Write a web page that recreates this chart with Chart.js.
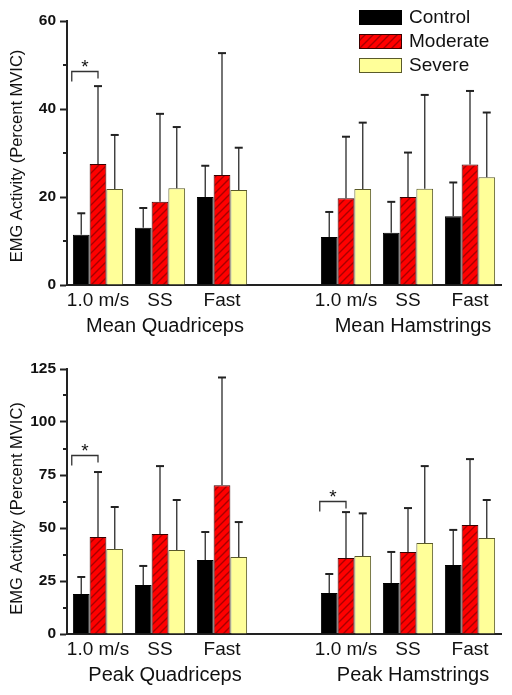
<!DOCTYPE html>
<html>
<head>
<meta charset="utf-8">
<script src="https://cdn.jsdelivr.net/npm/chart.js@4.4.1/dist/chart.umd.min.js"></script>
<style>
  html, body { margin: 0; padding: 0; background: #fff; }
  canvas { display: block; }
</style>
</head>
<body>
<canvas id="meanChart" width="512" height="345"></canvas>
<canvas id="peakChart" width="512" height="350"></canvas>
<script>
// categories (empty slot separates quadriceps from hamstrings)
const categories = ["1.0 m/s", "SS", "Fast", "", "1.0 m/s", "SS", "Fast"];
const groupNames = ["Control", "Moderate", "Severe"];

// Mean EMG (percent MVIC) and SD
const meanControl = [11.4, 13.0, 20.0, null, 10.9, 11.9, 15.6];
const meanControlSD = [4.9, 4.5, 7.1, null, 5.7, 7.0, 7.7];
const meanModerate = [27.5, 18.9, 25.0, null, 19.7, 20.0, 27.4];
const meanModerateSD = [17.7, 20.0, 27.7, null, 14.0, 10.1, 16.7];
const meanSevere = [21.8, 22.0, 21.6, null, 21.8, 21.9, 24.5];
const meanSevereSD = [12.3, 13.9, 9.6, null, 15.1, 21.3, 14.7];

// Peak EMG (percent MVIC) and SD
const peakControl = [18.9, 23.1, 34.9, null, 19.3, 24.0, 32.5];
const peakControlSD = [8.0, 9.0, 13.2, null, 9.0, 14.7, 16.6];
const peakModerate = [45.8, 47.2, 70.2, null, 35.8, 38.7, 51.4];
const peakModerateSD = [30.6, 32.0, 50.8, null, 21.7, 20.7, 31.1];
const peakSevere = [40.1, 39.6, 36.3, null, 36.8, 42.9, 45.3];
const peakSevereSD = [19.8, 23.6, 16.5, null, 20.1, 36.3, 17.9];

// significance brackets: category index and bracket height (data units)
const meanSignificant = [[0, 48.7]];
const peakSignificant = [[0, 84.4], [4, 62.9]];

Chart.defaults.font.family = 'Arial, "Liberation Sans", sans-serif';
Chart.defaults.color = "#111";

function hatchPattern() {
    const c = document.createElement("canvas");
    c.width = 8;
    c.height = 8;
    const g = c.getContext("2d");
    g.fillStyle = "#ff0000";
    g.fillRect(0, 0, 8, 8);
    g.strokeStyle = "#a80000";
    g.lineWidth = 1.4;
    g.beginPath();
    g.moveTo(0, 8); g.lineTo(8, 0);
    g.moveTo(-4, 4); g.lineTo(4, -4);
    g.moveTo(4, 12); g.lineTo(12, 4);
    g.stroke();
    return g.createPattern(c, "repeat");
}
const redHatch = hatchPattern();

const fills = ["#000000", redHatch, "#ffff99"];
const borders = ["#000000", "#3a0000", "#5a5a2a"];

// error bars (upper SD only)
const errorBars = {
    id: "errorBars",
    afterDatasetsDraw(chart) {
        const ctx = chart.ctx;
        const y = chart.scales.y;
        ctx.save();
        chart.data.datasets.forEach((ds, i) => {
            chart.getDatasetMeta(i).data.forEach((bar, j) => {
                const v = ds.data[j], e = ds.errors[j];
                if (v == null || e == null) return;
                const y0 = y.getPixelForValue(v);
                const y1 = y.getPixelForValue(v + e);
                ctx.strokeStyle = "#3a3a3a";
                ctx.lineWidth = 1.4;
                ctx.beginPath();
                ctx.moveTo(bar.x, y0);
                ctx.lineTo(bar.x, y1);
                ctx.stroke();
                ctx.strokeStyle = "#222";
                ctx.lineWidth = 2;
                ctx.beginPath();
                ctx.moveTo(bar.x - 4, y1);
                ctx.lineTo(bar.x + 4, y1);
                ctx.stroke();
            });
        });
        ctx.restore();
    }
};

// minor ticks, y title, group titles, significance brackets, legend
const decorations = {
    id: "decorations",
    afterDraw(chart, args, opts) {
        const ctx = chart.ctx;
        const x = chart.scales.x;
        const y = chart.scales.y;
        const area = chart.chartArea;
        ctx.save();

        // minor ticks
        ctx.strokeStyle = "#222";
        ctx.lineWidth = 2;
        y.ticks.forEach(t => {
            if (t.value % opts.major === 0) return;
            const py = Math.round(y.getPixelForValue(t.value));
            ctx.beginPath();
            ctx.moveTo(y.right - 4, py);
            ctx.lineTo(y.right, py);
            ctx.stroke();
        });

        // y axis title
        ctx.save();
        ctx.translate(17, (area.top + area.bottom) / 2 + opts.titleShift);
        ctx.rotate(-Math.PI / 2);
        ctx.fillStyle = "#111";
        ctx.font = '16.5px Arial, "Liberation Sans", sans-serif';
        ctx.textAlign = "center";
        ctx.textBaseline = "middle";
        ctx.fillText("EMG Activity (Percent MVIC)", 0, 0);
        ctx.restore();

        // group titles under the axis
        ctx.fillStyle = "#111";
        ctx.font = '20px Arial, "Liberation Sans", sans-serif';
        ctx.textAlign = "center";
        ctx.textBaseline = "middle";
        const ty = area.bottom + 41;
        ctx.fillText(opts.titles[0], x.getPixelForValue(1) + 5, ty);
        ctx.fillText(opts.titles[1], x.getPixelForValue(5) + 5, ty);

        // significance brackets between control and moderate
        const c0 = chart.getDatasetMeta(0).data;
        const c1 = chart.getDatasetMeta(1).data;
        opts.significant.forEach(([idx, h]) => {
            const left = c0[idx].x - 9.5;
            const right = c1[idx].x;
            const top = Math.round(y.getPixelForValue(h)) + 0.5;
            ctx.strokeStyle = "#333";
            ctx.lineWidth = 1.3;
            ctx.beginPath();
            ctx.moveTo(left, top + 10);
            ctx.lineTo(left, top);
            ctx.lineTo(right, top);
            ctx.lineTo(right, top + 7);
            ctx.stroke();
            ctx.fillStyle = "#111";
            ctx.font = '19px Arial, "Liberation Sans", sans-serif';
            ctx.textBaseline = "top";
            ctx.fillText("*", (left + right) / 2, top - 13);
        });

        // legend
        if (opts.legend) {
            chart.data.datasets.forEach((ds, i) => {
                const by = 10 + i * 24;
                ctx.fillStyle = ds.backgroundColor;
                ctx.fillRect(359, by, 43, 15);
                ctx.strokeStyle = ds.borderColor;
                ctx.lineWidth = 1;
                ctx.strokeRect(359.5, by + 0.5, 42, 14);
                ctx.fillStyle = "#111";
                ctx.font = '19px Arial, "Liberation Sans", sans-serif';
                ctx.textAlign = "left";
                ctx.textBaseline = "middle";
                ctx.fillText(ds.label, 409, by + 8);
            });
        }
        ctx.restore();
    }
};

function makeChart(id, series, sds, yMax, major, titles, significant, legend, topPad, bottomY, titleShift) {
    const canvas = document.getElementById(id);
    const ctx = canvas.getContext("2d");
    return new Chart(ctx, {
        type: "bar",
        data: {
            labels: categories,
            datasets: series.map((s, i) => ({
                label: groupNames[i],
                data: s,
                errors: sds[i],
                backgroundColor: fills[i],
                borderColor: borders[i],
                borderWidth: 1,
                borderSkipped: "bottom",
                categoryPercentage: 0.81,
                barPercentage: 1.0
            }))
        },
        options: {
            responsive: false,
            animation: false,
            events: [],
            layout: {
                padding: { top: topPad, right: 11, left: 0, bottom: 0 }
            },
            plugins: {
                legend: { display: false },
                tooltip: { enabled: false },
                decorations: {
                    major: major, titles: titles, significant: significant,
                    legend: legend, titleShift: titleShift
                }
            },
            scales: {
                x: {
                    offset: true,
                    grid: { display: false, drawTicks: false },
                    border: { display: true, color: "#222", width: 2 },
                    ticks: {
                        color: "#111",
                        font: { size: 19 },
                        padding: 4,
                        maxRotation: 0,
                        autoSkip: false
                    },
                    afterFit(scale) {
                        scale.height = canvas.height - bottomY;
                    }
                },
                y: {
                    min: 0,
                    max: yMax,
                    grid: {
                        drawOnChartArea: false,
                        drawTicks: true,
                        tickLength: 7,
                        tickWidth: 2,
                        tickColor: c => (c.tick && c.tick.value % major === 0) ? "#222" : "rgba(0,0,0,0)"
                    },
                    border: { display: true, color: "#222", width: 2 },
                    ticks: {
                        stepSize: major / 2,
                        autoSkip: false,
                        padding: 4,
                        color: "#111",
                        font: { size: 15.5, weight: "bold" },
                        callback: v => (v % major === 0 ? v : "")
                    },
                    title: { display: false },
                    afterFit(scale) {
                        scale.width = 67;
                    }
                }
            }
        },
        plugins: [errorBars, decorations]
    });
}

makeChart("meanChart",
    [meanControl, meanModerate, meanSevere],
    [meanControlSD, meanModerateSD, meanSevereSD],
    60, 20, ["Mean Quadriceps", "Mean Hamstrings"], meanSignificant, true, 21, 285, 3);

makeChart("peakChart",
    [peakControl, peakModerate, peakSevere],
    [peakControlSD, peakModerateSD, peakSevereSD],
    125, 25, ["Peak Quadriceps", "Peak Hamstrings"], peakSignificant, false, 24, 289, 7);
</script>
</body>
</html>
